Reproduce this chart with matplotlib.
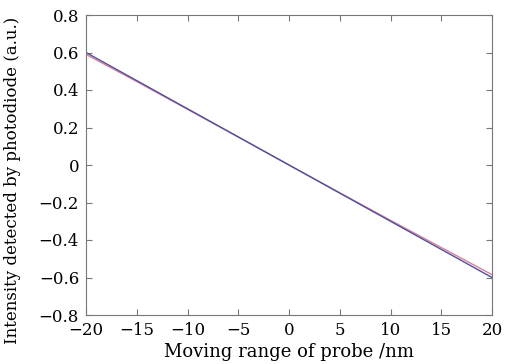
import matplotlib
matplotlib.use('Agg')

import matplotlib.pyplot as plt

# probe position (nm)
position_nm = [-20, -15, -10, -5, 0, 5, 10, 15, 20]
# measured intensity, two runs
intensity_a = [0.60, 0.45, 0.30, 0.15, 0.00, -0.15, -0.30, -0.45, -0.60]
intensity_b = [0.59, 0.445, 0.297, 0.149, 0.00, -0.148, -0.295, -0.44, -0.585]

x_ticks = [-20, -15, -10, -5, 0, 5, 10, 15, 20]
y_ticks = [-0.8, -0.6, -0.4, -0.2, 0, 0.2, 0.4, 0.6, 0.8]
y_labels = ['\u22120.8', '\u22120.6', '\u22120.4', '\u22120.2', '0', '0.2', '0.4', '0.6', '0.8']
x_labels = ['\u221220', '\u221215', '\u221210', '\u22125', '0', '5', '10', '15', '20']

plt.rcParams['font.family'] = ['DejaVu Serif']

fig = plt.figure(figsize=(5.26, 3.64), dpi=100)
ax = fig.add_axes([86 / 526, 49 / 364, 406 / 526, 300 / 364])

ax.plot(position_nm, intensity_b, color='#d8809a', lw=1.0)
ax.plot(position_nm, intensity_a, color='#50509a', lw=1.0)

ax.set_xlim(-20, 20)
ax.set_ylim(-0.8, 0.8)
ax.set_xticks(x_ticks)
ax.set_xticklabels(x_labels)
ax.set_yticks(y_ticks)
ax.set_yticklabels(y_labels)
ax.tick_params(direction='in', length=4, color='#777777', labelsize=12, top=True, right=True)
ax.tick_params(axis='x', pad=5)
ax.tick_params(axis='y', pad=5)
for s in ax.spines.values():
    s.set_color('#777777')
    s.set_linewidth(0.8)

ax.set_xlabel('Moving range of probe /nm', fontsize=13, labelpad=3)
ax.set_ylabel('Intensity detected by photodiode (a.u.)', fontsize=12)
ax.yaxis.set_label_coords(-0.16, 0.45)

plt.savefig('out.png')
plt.close()
